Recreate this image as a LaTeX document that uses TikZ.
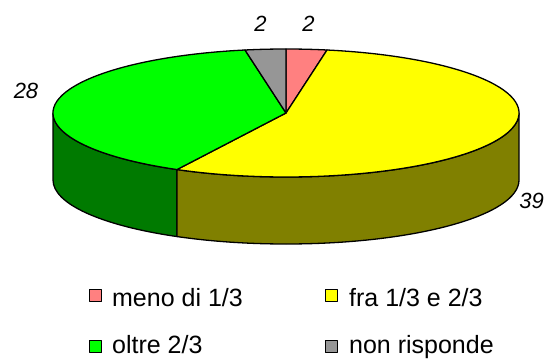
\documentclass[tikz,border=0pt]{standalone}
\usepackage{fontspec}
\setmainfont{Liberation Sans}

\definecolor{pinkslice}{RGB}{255,128,128}
\definecolor{yellowslice}{RGB}{255,255,0}
\definecolor{greenslice}{RGB}{0,255,0}
\definecolor{grayslice}{RGB}{150,150,150}
\definecolor{yellowside}{RGB}{128,128,0}
\definecolor{greenside}{RGB}{0,122,0}

\begin{document}
\begin{tikzpicture}[x=1pt,y=1pt,line width=1.3pt,line join=round,
    rim/.style={x radius=233pt,y radius=64pt}]

      \useasboundingbox (0,0) rectangle (548,359);

      \coordinate (c) at (286,246);
      \coordinate (d) at (286,179);

      % sides of the cake
      \filldraw[fill=greenside] ([shift={(180:233pt and 64pt)}]c)
        arc[rim,start angle=180,end angle=242.11]
        -- ([shift={(242.11:233pt and 64pt)}]d)
        arc[rim,start angle=242.11,end angle=180] -- cycle;
      \filldraw[fill=yellowside] ([shift={(242.11:233pt and 64pt)}]c)
        arc[rim,start angle=242.11,end angle=360]
        -- ([shift={(0:233pt and 64pt)}]d)
        arc[rim,start angle=360,end angle=242.11] -- cycle;

      % top slices
      \filldraw[fill=pinkslice] (c) -- ([shift={(90:233pt and 64pt)}]c)
        arc[rim,start angle=90,end angle=79.86] -- cycle;
      \filldraw[fill=yellowslice] (c) -- ([shift={(79.86:233pt and 64pt)}]c)
        arc[rim,start angle=79.86,end angle=-117.89] -- cycle;
      \filldraw[fill=greenslice] (c) -- ([shift={(242.11:233pt and 64pt)}]c)
        arc[rim,start angle=242.11,end angle=100.14] -- cycle;
      \filldraw[fill=grayslice] (c) -- ([shift={(100.14:233pt and 64pt)}]c)
        arc[rim,start angle=100.14,end angle=90] -- cycle;

      \begin{scope}[every node/.style={font=\fontsize{22}{26}\selectfont\itshape,anchor=base,inner sep=0pt}]
        \node (gray lab) at (260.5,327) {2};
        \node (pink lab) at (308.5,327) {2};
        \node (green lab) at (26,260) {28};
        \node (yellow lab) at (531.5,150) {39};
      \end{scope}

      \begin{scope}[every node/.style={draw,line width=1pt,minimum size=12pt,inner sep=0pt}]
        \node[fill=pinkslice] (key1) at (95.5,63.5) {};
        \node[fill=yellowslice] (key2) at (331,63.5) {};
        \node[fill=greenslice] (key3) at (95.5,12.5) {};
        \node[fill=grayslice] (key4) at (331,12.5) {};
      \end{scope}

      \begin{scope}[every node/.style={font=\fontsize{25}{30}\selectfont,anchor=base west,inner sep=0pt}]
        \node (txt1) at (111.5,53) {meno di 1/3};
        \node (txt2) at (348.5,53) {fra 1/3 e 2/3};
        \node (txt3) at (111.5,6) {oltre 2/3};
        \node (txt4) at (348.5,6) {non risponde};
      \end{scope}

    \end{tikzpicture}
\end{document}
